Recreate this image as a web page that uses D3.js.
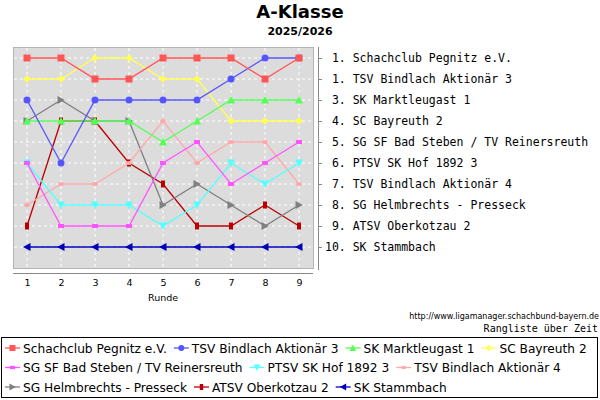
<!DOCTYPE html>
<html>
<head>
<meta charset="utf-8">
<script src="https://cdn.jsdelivr.net/npm/d3@7"></script>
<style>
  body { margin: 0; background: #fff; }
  svg { display: block; }
</style>
</head>
<body>
<div id="chart"></div>
<script>
// Rangliste ueber Zeit - A-Klasse

const rounds = [1, 2, 3, 4, 5, 6, 7, 8, 9];
const teams = [
  "Schachclub Pegnitz e.V.",
  "TSV Bindlach Aktionär 3",
  "SK Marktleugast 1",
  "SC Bayreuth 2",
  "SG SF Bad Steben / TV Reinersreuth",
  "PTSV SK Hof 1892 3",
  "TSV Bindlach Aktionär 4",
  "SG Helmbrechts - Presseck",
  "ATSV Oberkotzau 2",
  "SK Stammbach"
];
const finalRank = [1, 1, 3, 4, 5, 6, 7, 8, 9, 10];

// rank per round, one list per team
const pegnitz     = [1, 1, 2, 2, 1, 1, 1, 2, 1];
const bindlach3   = [3, 6, 3, 3, 3, 3, 2, 1, 1];
const marktleug   = [4, 4, 4, 4, 5, 4, 3, 3, 3];
const bayreuth2   = [2, 2, 1, 1, 2, 2, 4, 4, 4];
const badSteben   = [6, 9, 9, 9, 6, 5, 7, 6, 5];
const hof3        = [6, 8, 8, 8, 9, 8, 6, 7, 6];
const bindlach4   = [8, 7, 7, 6, 4, 6, 5, 5, 7];
const helmbrechts = [4, 3, 4, 4, 8, 7, 8, 9, 8];
const oberkotzau  = [9, 4, 4, 6, 7, 9, 9, 8, 9];
const stammbach   = [10, 10, 10, 10, 10, 10, 10, 10, 10];
const rankTicks = [1, 2, 3, 4, 5, 6, 7, 8, 9, 10];

const series = [pegnitz, bindlach3, marktleug, bayreuth2, badSteben,
                hof3, bindlach4, helmbrechts, oberkotzau, stammbach];
const colors = ["#ff5555", "#5555ff", "#55ff55", "#ffff55", "#ff55ff",
                "#55ffff", "#ffaaaa", "#808080", "#bb0000", "#0000bb"];
const shapes = ["square", "circle", "triUp", "diamond", "rectWide",
                "triDown", "ellipse", "triRight", "rectTall", "triLeft"];
// legend rows (team indexes)
const legendRows = [[0, 1, 2, 3], [4, 5, 6], [7, 8, 9]];

let width = 600, height = 400;
let plot = { left: 13, right: 313, top: 47, bottom: 268 };

const svg = d3.select("#chart")
  .append("svg")
  .attr("width", width)
  .attr("height", height)
  .style("font-family", "'DejaVu Sans', sans-serif");

let x = d3.scaleLinear().domain([1, 9]).range([27, 299]);
let y = d3.scaleLinear().domain([1, 10]).range([58, 247]);

// marker path around 0,0
function marker(shape, s) {
  s = s || 1;
  switch (shape) {
    case "square": return rect(3.5 * s, 3.5 * s);
    case "rectWide": return rect(3 * s, 2 * s);
    case "rectTall": return rect(2 * s, 3.5 * s);
    case "circle": return ellipse(3.5 * s, 3.5 * s);
    case "ellipse": return ellipse(3 * s, 2 * s);
    case "diamond": return `M0,${-3.8*s}L${3.8*s},0L0,${3.8*s}L${-3.8*s},0Z`;
    case "triUp": return `M0,${-4*s}L${4*s},${3.5*s}L${-4*s},${3.5*s}Z`;
    case "triDown": return `M0,${4*s}L${4*s},${-3.5*s}L${-4*s},${-3.5*s}Z`;
    case "triRight": return `M${4*s},0L${-3.5*s},${-4*s}L${-3.5*s},${4*s}Z`;
    case "triLeft": return `M${-4*s},0L${3.5*s},${-4*s}L${3.5*s},${4*s}Z`;
  }
}
function rect(w, h) { return `M${-w},${-h}H${w}V${h}H${-w}Z`; }
function ellipse(rx, ry) {
  return `M${-rx},0A${rx},${ry} 0 1,0 ${rx},0A${rx},${ry} 0 1,0 ${-rx},0Z`;
}

// title
svg.append("text")
  .attr("x", 300).attr("y", 18)
  .attr("text-anchor", "middle")
  .style("font-size", "18px").style("font-weight", "bold")
  .text("A-Klasse");
svg.append("text")
  .attr("x", 300).attr("y", 35)
  .attr("text-anchor", "middle")
  .style("font-size", "11px").style("font-weight", "bold")
  .text("2025/2026");

// plot background
svg.append("rect")
  .attr("x", plot.left + 0.5).attr("y", plot.top + 0.5)
  .attr("width", plot.right - plot.left).attr("height", plot.bottom - plot.top)
  .attr("fill", "#dcdcdc")
  .attr("stroke", "#b4b4b4");

// grid
svg.append("g").selectAll("line")
  .data(rankTicks)
  .join("line")
  .attr("x1", plot.left + 1).attr("x2", plot.right)
  .attr("y1", d => y(d)).attr("y2", d => y(d))
  .attr("stroke", "#fff").attr("stroke-dasharray", "3,3");
svg.append("g").selectAll("line")
  .data(rounds)
  .join("line")
  .attr("x1", d => x(d)).attr("x2", d => x(d))
  .attr("y1", plot.top + 1).attr("y2", plot.bottom)
  .attr("stroke", "#fff").attr("stroke-dasharray", "3,3");

// bottom axis
svg.append("g")
  .attr("transform", `translate(0,273)`)
  .call(d3.axisBottom(x).tickValues(rounds).tickSize(0).tickPadding(6).tickFormat(d3.format("d")))
  .call(g => g.select(".domain").attr("d", `M${plot.left},0.5H${plot.right}`).attr("stroke", "#888"))
  .call(g => g.selectAll("text").style("font-size", "9.5px").style("font-family", "'DejaVu Sans', sans-serif"));

svg.append("text")
  .attr("x", 163).attr("y", 301)
  .attr("text-anchor", "middle")
  .style("font-size", "9.5px")
  .text("Runde");

// right axis with final standings
svg.append("g")
  .attr("transform", `translate(318,0)`)
  .call(d3.axisRight(y).tickValues(rankTicks).tickSize(4).tickPadding(3).tickFormat(""))
  .call(g => g.select(".domain").attr("d", `M0.5,${plot.top}V${plot.bottom + 2}`).attr("stroke", "#888"))
  .call(g => g.selectAll(".tick line").attr("stroke", "#888"));

svg.append("g").selectAll("text")
  .data(teams)
  .join("text")
  .attr("x", 325)
  .attr("y", (d, i) => y(rankTicks[i]) + 4)
  .attr("xml:space", "preserve")
  .style("font-family", "'DejaVu Sans Mono', monospace")
  .style("font-size", "11.5px")
  .text((d, i) => (finalRank[i] < 10 ? " " : "") + finalRank[i] + ". " + d);

// lines and markers, first team on top
let line = d3.line()
  .x((d, i) => x(rounds[i]))
  .y(d => y(d));

const order = d3.range(series.length).reverse();
const lines = svg.append("g");
order.forEach(k => {
  lines.append("path")
    .datum(series[k])
    .attr("d", line)
    .attr("fill", "none")
    .attr("stroke", colors[k])
    .attr("stroke-width", 1.3);
  lines.append("g").selectAll("path")
    .data(series[k])
    .join("path")
    .attr("transform", (d, i) => `translate(${x(rounds[i])},${y(d)})`)
    .attr("d", marker(shapes[k]))
    .attr("fill", colors[k]);
});

// footer
svg.append("text")
  .attr("x", 599).attr("y", 319)
  .attr("text-anchor", "end")
  .style("font-size", "8px")
  .text("http://www.ligamanager.schachbund-bayern.de");
svg.append("text")
  .attr("x", 598).attr("y", 332)
  .attr("text-anchor", "end")
  .style("font-family", "'DejaVu Sans Mono', monospace")
  .style("font-size", "10px")
  .text("Rangliste über Zeit");

// legend
svg.append("rect")
  .attr("x", 1.5).attr("y", 337.5)
  .attr("width", 596).attr("height", 60)
  .attr("fill", "#fff").attr("stroke", "#000");

const legend = svg.append("g");
legendRows.forEach((items, row) => {
  let lx = 5, ly = 348 + row * 19.5;
  items.forEach(k => {
    let g = legend.append("g").attr("transform", `translate(${lx},${ly})`);
    g.append("line").attr("x1", 0).attr("x2", 15)
      .attr("stroke", colors[k]).attr("stroke-width", 1.3);
    g.append("path").attr("transform", "translate(7.5,0)")
      .attr("d", marker(shapes[k], 0.85)).attr("fill", colors[k]);
    let txt = g.append("text").attr("x", 18).attr("y", 4.5)
      .style("font-size", "12.2px").text(teams[k]);
    lx += 18 + txt.node().getComputedTextLength() + 7;
  });
});
</script>
</body>
</html>
